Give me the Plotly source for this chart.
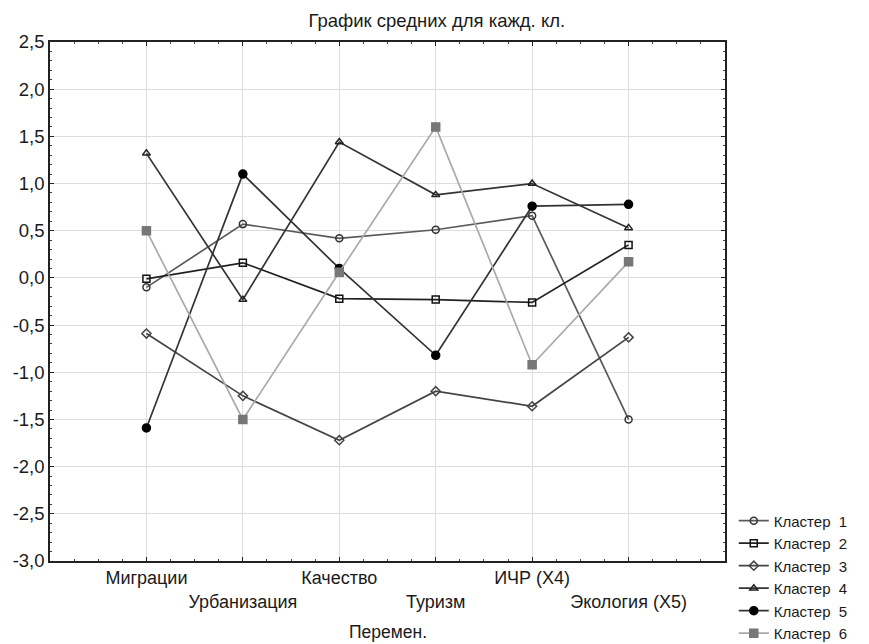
import plotly.graph_objects as go

categories = ["Миграции", "Урбанизация", "Качество", "Туризм", "ИЧР (X4)", "Экология (X5)"]
cluster_names = ["Кластер  1", "Кластер  2", "Кластер  3", "Кластер  4", "Кластер  5", "Кластер  6"]
cluster1 = [-0.10, 0.57, 0.42, 0.51, 0.66, -1.50]
cluster2 = [-0.01, 0.16, -0.22, -0.23, -0.26, 0.35]
cluster3 = [-0.59, -1.25, -1.72, -1.20, -1.36, -0.63]
cluster4 = [1.32, -0.23, 1.44, 0.88, 1.00, 0.53]
cluster5 = [-1.59, 1.10, 0.10, -0.82, 0.76, 0.78]
cluster6 = [0.50, -1.50, 0.06, 1.60, -0.92, 0.17]
y_ticks = [2.5, 2.0, 1.5, 1.0, 0.5, 0.0, -0.5, -1.0, -1.5, -2.0, -2.5, -3.0]

series = [cluster1, cluster2, cluster3, cluster4, cluster5, cluster6]
styles = [
    dict(line="#5a5a5a", symbol="circle-open", mcolor="#333333"),
    dict(line="#222222", symbol="square-open", mcolor="#111111"),
    dict(line="#444444", symbol="diamond-open", mcolor="#444444"),
    dict(line="#333333", symbol="triangle-up-open", mcolor="#222222"),
    dict(line="#333333", symbol="circle", mcolor="#000000"),
    dict(line="#aaaaaa", symbol="square", mcolor="#777777"),
]

xs = list(range(len(categories)))
fig = go.Figure()
for i, (vals, st) in enumerate(zip(series, styles)):
    fig.add_trace(go.Scatter(
        x=xs, y=vals, mode="lines+markers", name=cluster_names[i],
        line=dict(color=st["line"], width=1.7),
        marker=dict(symbol=st["symbol"], size=7 if "open" in st["symbol"] else 8,
                    color=st["mcolor"], line=dict(width=1.5, color=st["mcolor"])),
    ))

ticktext = [c if i % 2 == 0 else "<br>" + c for i, c in enumerate(categories)]

def fmt(v):
    return f"{v:.1f}".replace(".", ",")

fig.update_layout(
    width=861, height=636,
    margin=dict(l=42, r=144, t=34, b=83, autoexpand=False),
    paper_bgcolor="white", plot_bgcolor="white",
    font=dict(family="Liberation Sans, Arial, sans-serif", color="#1a1a1a", size=18),
    title=dict(text="График средних для кажд. кл.", x=0.498, xanchor="center", y=0.981, yanchor="middle",
               font=dict(size=18.5)),
    showlegend=True,
    legend=dict(x=1.013, xanchor="left", y=0.109, yanchor="top", font=dict(size=15),
                tracegroupgap=0, bgcolor="rgba(0,0,0,0)"),
    xaxis=dict(
        range=[-1, 6], tickmode="array", tickvals=xs, ticktext=ticktext, tickangle=0,
        automargin=False,
        showgrid=True, gridcolor="#dddddd", gridwidth=1.4,
        showline=True, linecolor="#222222", linewidth=1.5, mirror="ticks",
        ticks="inside", ticklen=4, tickcolor="#222222",
        minor=dict(dtick=0.25, ticks="inside", ticklen=2, tickcolor="#444444", showgrid=False),
        zeroline=False, tickfont=dict(size=18),
    ),
    yaxis=dict(
        range=[-3.0, 2.5], tickmode="array", tickvals=y_ticks, ticktext=[fmt(v) for v in y_ticks],
        automargin=False,
        showgrid=True, gridcolor="#dddddd", gridwidth=1.4,
        showline=True, linecolor="#222222", linewidth=1.5, mirror="ticks",
        ticks="inside", ticklen=4, tickcolor="#222222",
        minor=dict(dtick=0.1, ticks="inside", ticklen=2, tickcolor="#444444", showgrid=False),
        zeroline=False, tickfont=dict(size=18.5),
    ),
    annotations=[dict(text="Перемен.", x=0.5, xref="paper", y=-0.137, yref="paper",
                      xanchor="center", yanchor="middle", showarrow=False, font=dict(size=17.5))],
)

fig.write_html("out.html")
